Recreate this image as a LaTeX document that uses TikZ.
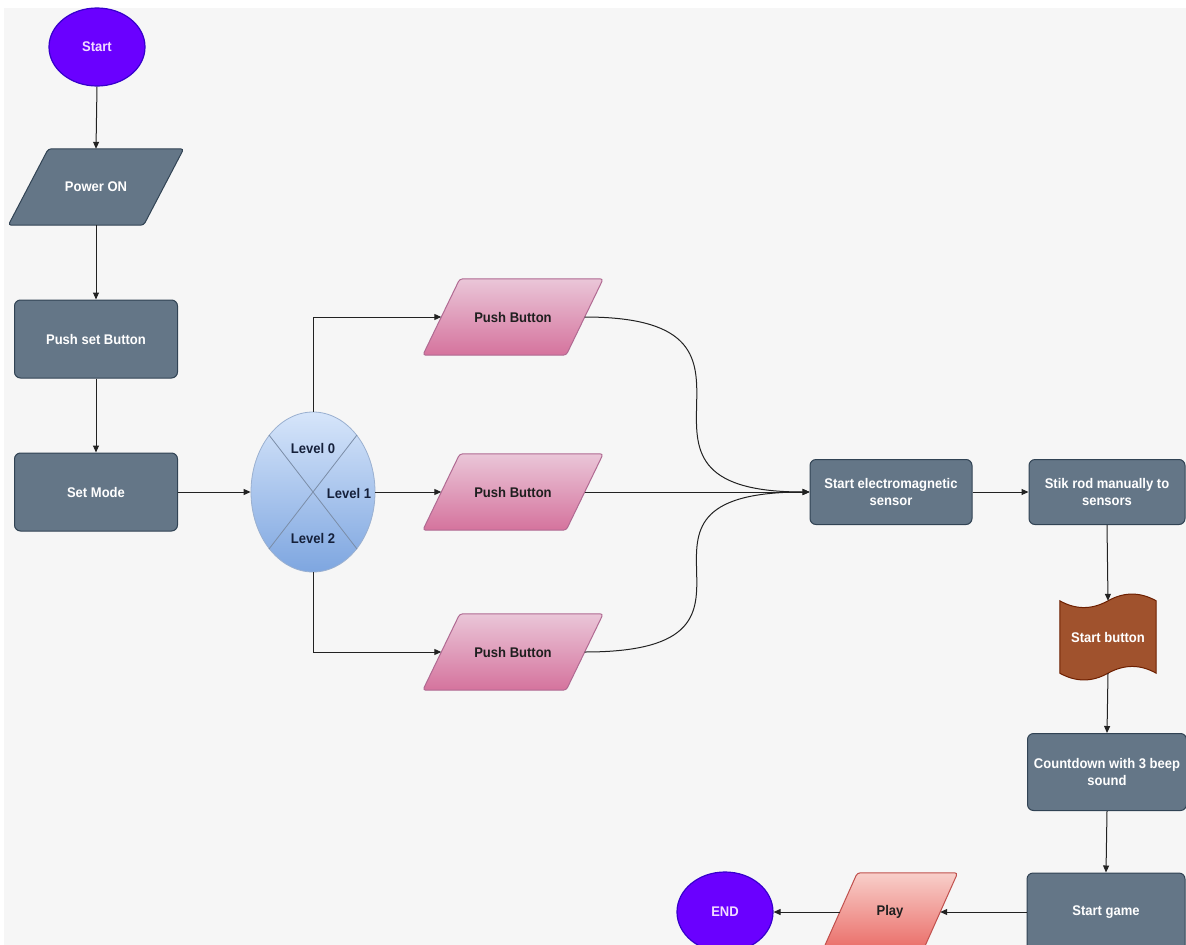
\documentclass[tikz,border=0pt]{standalone}
\usepackage{fontspec}
\setmainfont{Liberation Sans}[FakeStretch=0.93]
\usetikzlibrary{shapes.geometric,arrows.meta,calc,backgrounds}
\pgfdeclarelayer{canvas}
\pgfsetlayers{canvas,background,main}
\definecolor{bgc}{HTML}{F6F6F6}
\definecolor{grayF}{HTML}{647687}
\definecolor{grayS}{HTML}{314354}
\definecolor{purF}{HTML}{6A00FF}
\definecolor{purS}{HTML}{3700CC}
\definecolor{purT}{HTML}{F2DCFF}
\definecolor{brF}{HTML}{A0522D}
\definecolor{brS}{HTML}{6D1F00}
\definecolor{pinkT}{HTML}{EAC6D8}
\definecolor{pinkB}{HTML}{D5739D}
\definecolor{pinkS}{HTML}{B06A92}
\definecolor{redT}{HTML}{F8CFCA}
\definecolor{redB}{HTML}{EA6B66}
\definecolor{redS}{HTML}{C0504D}
\definecolor{bluT}{HTML}{D6E5FA}
\definecolor{bluB}{HTML}{7EA6E0}
\definecolor{bluS}{HTML}{9AB0D0}
\definecolor{linec}{HTML}{222222}
\definecolor{darkT}{HTML}{1F1F1F}
\definecolor{navyT}{HTML}{15203A}
\newcommand\drawparashape[3]{%
  \path[#3] ($(#1.north west)+(#2/2,0)$) -- ($(#1.north east)+(#2/2,0)$)
    -- ($(#1.south east)+(-#2/2,0)$) -- ($(#1.south west)+(-#2/2,0)$) -- cycle;}
\begin{document}
\begin{tikzpicture}[x=1pt,y=-1pt,
  font=\bfseries\fontsize{14}{16.5}\selectfont,
  graybox/.style={draw=grayS, fill=grayF, line width=1pt, rounded corners=6pt,
    text=white, align=center, inner sep=0pt},
  termnode/.style={ellipse, draw=purS, fill=purF, line width=1.2pt, text=purT,
    minimum width=96pt, minimum height=78pt, inner sep=0pt},
  parabox/.style={inner sep=0pt, align=center},
  pinkfill/.style={draw=pinkS, line width=1pt, rounded corners=3pt,
    top color=pinkT, bottom color=pinkB},
  redfill/.style={draw=redS, line width=1pt, rounded corners=3pt,
    top color=redT, bottom color=redB},
  grayfill/.style={draw=grayS, fill=grayF, line width=1pt, rounded corners=3pt},
  arr/.style={draw=linec, line width=1pt, -{Triangle[length=7pt,width=6pt]}},
  levtext/.style={text=navyT, inner sep=0pt}
]
\useasboundingbox (0,0) rectangle (1186,945);
\clip (0,0) rectangle (1186,945);
\begin{pgfonlayer}{canvas}
\fill[white] (0,0) rectangle (1186,945);
\fill[bgc] (4,8) rectangle (1186,945);
\end{pgfonlayer}

% nodes
\node[termnode] (start) at (97,47) {Start};
\node[parabox, text=white, minimum width=135pt, minimum height=76pt] (pon) at (96,187) {Power ON};
\node[graybox, minimum width=163pt, minimum height=78pt] (psb) at (96,339) {Push set Button};
\node[graybox, minimum width=163pt, minimum height=78pt] (sm) at (96,492) {Set Mode};

\node[ellipse, draw=bluS, line width=0.8pt, top color=bluT, bottom color=bluB,
  minimum width=124pt, minimum height=160pt, inner sep=0pt] (lev) at (313,492) {};
\draw[bluS!80!black, line width=0.8pt]
  ($(lev.center)+(-44,-57)$) -- ($(lev.center)+(44,57)$)
  ($(lev.center)+(44,-57)$) -- ($(lev.center)+(-44,57)$);
\node[levtext] (l0) at (313,448) {Level 0};
\node[levtext] (l1) at (349,493) {Level 1};
\node[levtext] (l2) at (313,538) {Level 2};

\node[parabox, text=darkT, minimum width=143pt, minimum height=76pt] (pb1) at (513,317) {Push Button};
\node[parabox, text=darkT, minimum width=143pt, minimum height=76pt] (pb2) at (513,492) {Push Button};
\node[parabox, text=darkT, minimum width=143pt, minimum height=76pt] (pb3) at (513,652) {Push Button};

\node[graybox, minimum width=162pt, minimum height=65pt] (ess) at (891,492) {Start electromagnetic\\sensor};
\node[graybox, minimum width=156pt, minimum height=65pt] (stik) at (1107,492) {Stik rod manually to\\sensors};
\node[parabox, text=white, minimum width=96pt, minimum height=72pt] (sb) at (1108,637) {Start button};
\node[graybox, minimum width=159pt, minimum height=77pt] (cd) at (1107,772) {Countdown with 3 beep\\sound};
\node[graybox, minimum width=158pt, minimum height=78pt] (sg) at (1106,912) {Start game};
\node[parabox, text=darkT, minimum width=100pt, minimum height=78pt] (play) at (890,912) {Play};
\node[termnode, minimum width=96pt, minimum height=80pt] (end) at (725,912) {END};

% shapes behind text
\begin{pgfonlayer}{background}
\drawparashape{pon}{40}{grayfill}
\drawparashape{pb1}{37}{pinkfill}
\drawparashape{pb2}{37}{pinkfill}
\drawparashape{pb3}{37}{pinkfill}
\drawparashape{play}{35}{redfill}
\path[draw=brS, fill=brF, line width=1pt]
  (sb.north west) .. controls ($(sb.north west)+(16,9)$) and ($(sb.north west)+(32,9)$) .. (sb.north)
  .. controls ($(sb.north)+(16,-9)$) and ($(sb.north)+(32,-9)$) .. (sb.north east)
  -- (sb.south east) .. controls ($(sb.south east)+(-16,-9)$) and ($(sb.south east)+(-32,-9)$) .. (sb.south)
  .. controls ($(sb.south)+(-16,9)$) and ($(sb.south)+(-32,9)$) .. (sb.south west) -- cycle;
\end{pgfonlayer}

% connectors
\draw[arr] (start.south) -- (pon.north);
\draw[arr] (pon.south) -- (psb.north);
\draw[arr] (psb.south) -- (sm.north);
\draw[arr] (sm.east) -- (lev.west);
\draw[arr] (lev.north) |- (pb1.west);
\draw[arr] (lev.east) -- (pb2.west);
\draw[arr] (lev.south) |- (pb3.west);
\draw[arr] (pb1.east) .. controls +(226,0) and +(-225,0) .. (ess.west);
\draw[arr] (pb2.east) -- (ess.west);
\draw[arr] (pb3.east) .. controls +(226,0) and +(-225,0) .. (ess.west);
\draw[arr] (ess.east) -- (stik.west);
\draw[arr] (stik.south) -- (sb.north);
\draw[arr] (sb.south) -- (cd.north);
\draw[arr] (cd.south) -- (sg.north);
\draw[arr] (sg.west) -- (play.east);
\draw[arr] (play.west) -- (end.east);
\end{tikzpicture}
\end{document}
